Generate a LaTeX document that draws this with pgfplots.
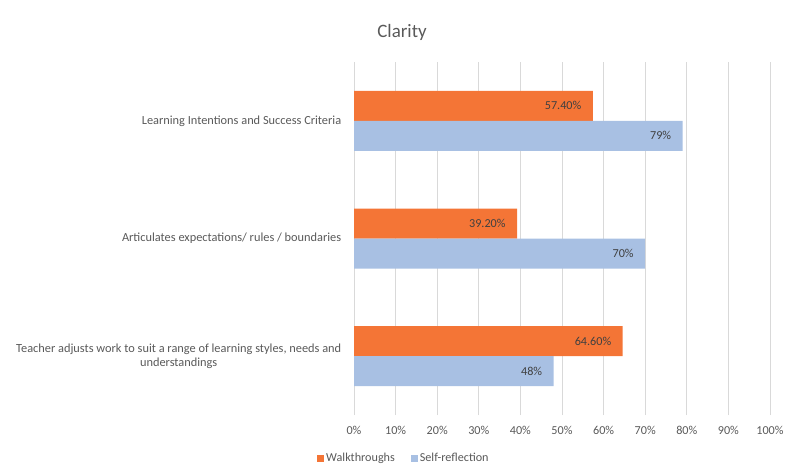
\documentclass[border=0pt]{standalone}
\usepackage{pgfplots}
\pgfplotsset{compat=1.18}
\usepackage{fontspec}
\setmainfont{Carlito}
\definecolor{wk}{HTML}{F47536}
\definecolor{sr}{HTML}{A8C0E3}
\definecolor{txt}{HTML}{595959}
\definecolor{lbl}{HTML}{404040}
\definecolor{grd}{HTML}{D9D9D9}
\begin{document}
\begin{tikzpicture}
\path[use as bounding box] (0,0) rectangle (789bp,-466bp);
\begin{axis}[
  at={(354bp,-415bp)}, anchor=south west,
  scale only axis, width=416bp, height=353bp,
  xbar, bar width=30bp,
  xmin=0, xmax=100, ymin=0.5, ymax=3.5,
  clip=false,
  xtick={0,10,...,100},
  xticklabel={\pgfmathprintnumber{\tick}\%},
  /pgf/number format/assume math mode=true,
  ytick={1,2,3},
  yticklabels={{Teacher adjusts work to suit a range of learning styles, needs and\\understandings},{Articulates expectations/ rules / boundaries},{Learning Intentions and Success Criteria}},
  yticklabel style={align=center, font=\fontsize{12.4}{14}\selectfont, text=txt, xshift=-5bp},
  xticklabel style={font=\fontsize{12.2}{14}\selectfont, text=txt, yshift=-8bp},
  axis line style={draw=none},
  tick style={draw=none},
  xmajorgrids, major grid style={draw=grd, line width=0.75bp},
  legend style={at={(0.12,-0.122)}, anchor=center, legend columns=2, draw=none,
    font=\fontsize{12.2}{14}\selectfont, text=txt,
    /tikz/every even column/.style={column sep=14bp}},
  legend image code/.code={\fill[#1] (0bp,-3.5bp) rectangle (7bp,3.5bp);},
  nodes near coords,
  point meta=explicit symbolic,
  every node near coord/.append style={anchor=east, xshift=-8bp, font=\fontsize{12.2}{14}\selectfont, text=lbl},
]
\addplot[fill=wk, draw=none, bar shift=15bp] coordinates {(64.6,1)[64.60\%] (39.2,2)[39.20\%] (57.4,3)[57.40\%]};
\addlegendentry{Walkthroughs}
\addplot[fill=sr, draw=none, bar shift=-15bp] coordinates {(48,1)[48\%] (70,2)[70\%] (79,3)[79\%]};
\addlegendentry{Self-reflection}
\end{axis}
\node[font=\fontsize{19}{22}\selectfont, text=txt] at (402bp,-32bp) {Clarity};
\end{tikzpicture}
\end{document}
